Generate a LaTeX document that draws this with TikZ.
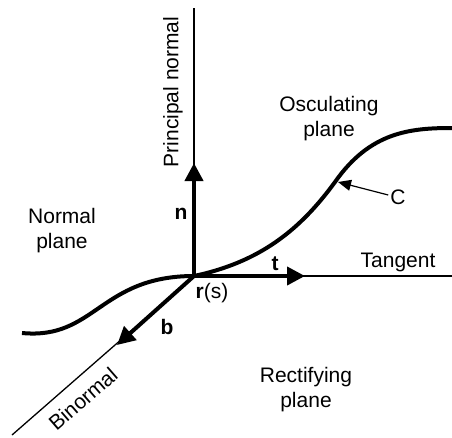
\documentclass[tikz,border=0pt]{standalone}
\usepackage{fontspec}
\setmainfont{Liberation Sans}
\usetikzlibrary{arrows.meta}
\begin{document}
\begin{tikzpicture}[x=1pt,y=-1pt,
  thinline/.style={line width=1.3pt},
  thickline/.style={line width=4pt},
  vec/.style={thickline,-{Triangle[length=18pt,width=18pt]}},
  lbl/.style={font=\fontsize{21}{25}\selectfont,align=center,inner sep=0pt},
  blbl/.style={font=\fontsize{21}{25}\selectfont\bfseries,inner sep=0pt}]
\useasboundingbox (0,0) rectangle (452,437);
\coordinate (O) at (194,276);
\coordinate (ntop) at (194,8);
\coordinate (ntip) at (194,163);
\coordinate (tend) at (452,276);
\coordinate (ttip) at (305,276);
\coordinate (bend) at (12,435);
\coordinate (btip) at (117,345);
\coordinate (cstart) at (22,333);
\coordinate (cmid) at (335,182);
\coordinate (cend) at (452,128);
% thin axes
\draw[thinline] (O) -- (ntop);
\draw[thinline] (O) -- (tend);
\draw[thinline] (O) -- (bend);
% curve
\draw[thickline] (cstart) .. controls (95,340) and (100,276) .. (O)
  .. controls (260,262) and (300,230) .. (cmid)
  .. controls (370,132) and (410,128) .. (cend);
% vectors
\draw[vec] (O) -- (ntip);
\draw[vec] (O) -- (ttip);
\draw[vec] (O) -- (btip);
% labels
\node[lbl,rotate=90] (pn) at (173,92) {Principal normal};
\node[lbl] (osc) at (329,119) {Osculating\\plane};
\node[lbl] (tan) at (398,262) {Tangent};
\node[lbl] (np) at (62,231) {Normal\\plane};
\node[lbl] (rp) at (306,390) {Rectifying\\plane};
\node[lbl,rotate=41] (bn) at (83,399) {Binormal};
\node[lbl] (C) at (398,197) {C};
\node[blbl] (n) at (181,214) {n};
\node[blbl] (t) at (275,264) {t};
\node[blbl] (b) at (167,327) {b};
\node[lbl] (rs) at (212,293) {\textbf{r}(s)};
\draw[line width=1.2pt,-{Triangle[length=13pt,width=11pt]}] (C.west) ++(-2,-2) coordinate (cfrom) (cfrom) -- (338,182);
\end{tikzpicture}
\end{document}
